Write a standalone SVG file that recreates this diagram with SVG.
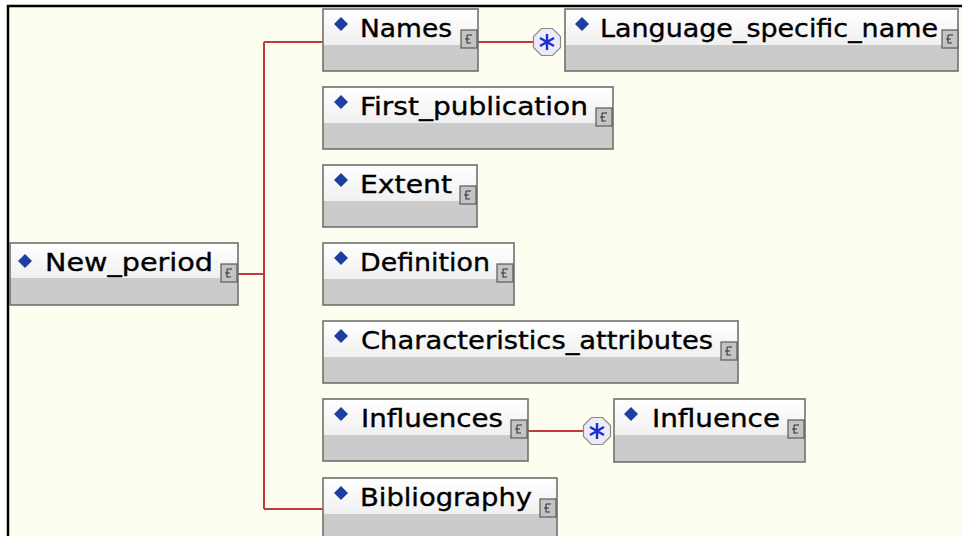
<svg xmlns="http://www.w3.org/2000/svg" width="962" height="536" viewBox="0 0 962 536">
<defs>
<linearGradient id="top" x1="0" y1="0" x2="0" y2="1">
<stop offset="0" stop-color="#ffffff"/>
<stop offset="1" stop-color="#f0f0f0"/>
</linearGradient>
<g id="icon">
<rect x="0" y="0" width="16" height="18" fill="#c4c4c4" stroke="#5a5a5a" stroke-width="1.2"/>
<path d="M6 5 V13 H10 M4 9 H9 M6 5 H9 M10 4 V6" fill="none" stroke="#333" stroke-width="1.1"/>
</g>
<g id="star">
<polygon points="-5.5,-13.5 5.5,-13.5 13.5,-5.5 13.5,5.5 5.5,13.5 -5.5,13.5 -13.5,5.5 -13.5,-5.5" fill="#ececf8" stroke="#8a8a8a" stroke-width="1.2"/>
<path d="M0 -8 V8 M-7 -4 L7 4 M-7 4 L7 -4" stroke="#1a2fd0" stroke-width="2.4"/>
</g>
</defs>
<style>
.bg{fill:#fefef0}
.box{stroke:#707070;stroke-width:1.6}
.hd{fill:url(#top)}
.ft{fill:#cbcbcb}
.dia{fill:#1f3fa0}
.lbl{font-family:"DejaVu Sans","Verdana",sans-serif;font-size:24px;fill:#000;stroke:#000;stroke-width:0.35}
.con{fill:none;stroke:#c43a3a;stroke-width:2}
</style>
<rect x="0" y="0" width="962" height="536" fill="#ffffff"/>
<rect x="8" y="6" width="954" height="530" class="bg"/>
<path d="M8 536 V6 H962" fill="none" stroke="#000" stroke-width="2.5"/>

<g id="connectors">
<path class="con" d="M238 274 H264 M264 42 V509 M264 42 H323 M264 509 H323"/>
<path class="con" d="M478 42 H533"/>
<path class="con" d="M528 431 H583"/>
</g>

<g id="New_period">
<rect x="10" y="243" width="228" height="35" class="hd"/>
<rect x="10" y="278" width="228" height="27" class="ft"/>
<rect x="10" y="243" width="228" height="62" fill="none" class="box"/>
<polygon points="25,254 32,261 25,268 18,261" class="dia"/>
<text x="45" y="271" class="lbl" textLength="168" lengthAdjust="spacingAndGlyphs">New_period</text>
<use href="#icon" x="221" y="264"/>
</g>

<g id="Names">
<rect x="323" y="9" width="155" height="36" class="hd"/>
<rect x="323" y="45" width="155" height="26" class="ft"/>
<rect x="323" y="9" width="155" height="62" fill="none" class="box"/>
<polygon points="341,17 348,24 341,31 334,24" class="dia"/>
<text x="360" y="37" class="lbl" textLength="92" lengthAdjust="spacingAndGlyphs">Names</text>
<use href="#icon" x="461" y="30"/>
</g>

<g id="Names_star">
<use href="#star" x="547" y="42"/>
</g>

<g id="Language_specific_name">
<rect x="565" y="9" width="393" height="36" class="hd"/>
<rect x="565" y="45" width="393" height="26" class="ft"/>
<rect x="565" y="9" width="393" height="62" fill="none" class="box"/>
<polygon points="582,17 589,24 582,31 575,24" class="dia"/>
<text x="600" y="37" class="lbl" textLength="338" lengthAdjust="spacingAndGlyphs">Language_specific_name</text>
<use href="#icon" x="942" y="30"/>
</g>

<g id="First_publication">
<rect x="323" y="87" width="290" height="36" class="hd"/>
<rect x="323" y="123" width="290" height="26" class="ft"/>
<rect x="323" y="87" width="290" height="62" fill="none" class="box"/>
<polygon points="341,95 348,102 341,109 334,102" class="dia"/>
<text x="360" y="115" class="lbl" textLength="228" lengthAdjust="spacingAndGlyphs">First_publication</text>
<use href="#icon" x="596" y="108"/>
</g>

<g id="Extent">
<rect x="323" y="165" width="154" height="36" class="hd"/>
<rect x="323" y="201" width="154" height="26" class="ft"/>
<rect x="323" y="165" width="154" height="62" fill="none" class="box"/>
<polygon points="341,173 348,180 341,187 334,180" class="dia"/>
<text x="360" y="193" class="lbl" textLength="92" lengthAdjust="spacingAndGlyphs">Extent</text>
<use href="#icon" x="460" y="186"/>
</g>

<g id="Definition">
<rect x="323" y="243" width="191" height="36" class="hd"/>
<rect x="323" y="279" width="191" height="26" class="ft"/>
<rect x="323" y="243" width="191" height="62" fill="none" class="box"/>
<polygon points="341,251 348,258 341,265 334,258" class="dia"/>
<text x="360" y="271" class="lbl" textLength="130" lengthAdjust="spacingAndGlyphs">Definition</text>
<use href="#icon" x="497" y="264"/>
</g>

<g id="Characteristics_attributes">
<rect x="323" y="321" width="415" height="36" class="hd"/>
<rect x="323" y="357" width="415" height="26" class="ft"/>
<rect x="323" y="321" width="415" height="62" fill="none" class="box"/>
<polygon points="341,329 348,336 341,343 334,336" class="dia"/>
<text x="361" y="349" class="lbl" textLength="352" lengthAdjust="spacingAndGlyphs">Characteristics_attributes</text>
<use href="#icon" x="721" y="342"/>
</g>

<g id="Influences">
<rect x="323" y="399" width="205" height="36" class="hd"/>
<rect x="323" y="435" width="205" height="26" class="ft"/>
<rect x="323" y="399" width="205" height="62" fill="none" class="box"/>
<polygon points="341,407 348,414 341,421 334,414" class="dia"/>
<text x="361" y="427" class="lbl" textLength="142" lengthAdjust="spacingAndGlyphs">Influences</text>
<use href="#icon" x="511" y="420"/>
</g>

<g id="Influences_star">
<use href="#star" x="597" y="431"/>
</g>

<g id="Influence">
<rect x="614" y="399" width="191" height="36" class="hd"/>
<rect x="614" y="435" width="191" height="27" class="ft"/>
<rect x="614" y="399" width="191" height="63" fill="none" class="box"/>
<polygon points="631,407 638,414 631,421 624,414" class="dia"/>
<text x="652" y="427" class="lbl" textLength="128" lengthAdjust="spacingAndGlyphs">Influence</text>
<use href="#icon" x="788" y="420"/>
</g>

<g id="Bibliography">
<rect x="323" y="478" width="234" height="36" class="hd"/>
<rect x="323" y="514" width="234" height="26" class="ft"/>
<rect x="323" y="478" width="234" height="62" fill="none" class="box"/>
<polygon points="341,486 348,493 341,500 334,493" class="dia"/>
<text x="360" y="506" class="lbl" textLength="172" lengthAdjust="spacingAndGlyphs">Bibliography</text>
<use href="#icon" x="540" y="499"/>
</g>
</svg>
